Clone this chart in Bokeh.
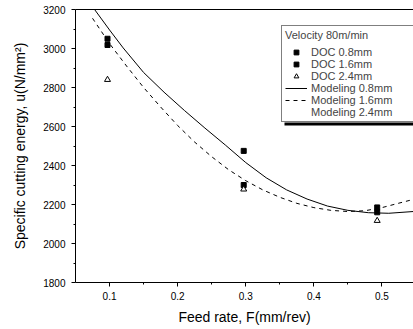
from bokeh.plotting import figure
from bokeh.models import ColumnDataSource, Legend, LegendItem, LinearAxis, FixedTicker, Range1d, BoxAnnotation
from bokeh.embed import file_html
from bokeh.resources import INLINE

# ---- data ----
feed = [0.097, 0.297, 0.493]
doc_08 = [3050, 2475, 2185]
doc_16 = [3018, 2300, 2160]
doc_24 = [2840, 2278, 2117]

model_08_feed = [0.078, 0.10, 0.12, 0.15, 0.18, 0.21, 0.24, 0.27, 0.30, 0.33, 0.36,
                 0.39, 0.42, 0.45, 0.48, 0.51, 0.546]
model_08_u = [3200, 3095, 3003, 2877, 2776, 2682, 2592, 2505, 2415, 2337, 2275,
              2228, 2192, 2170, 2158, 2155, 2164]

model_16_feed = [0.075, 0.10, 0.125, 0.15, 0.175, 0.20, 0.225, 0.25, 0.275, 0.30,
                 0.325, 0.35, 0.375, 0.40, 0.425, 0.45, 0.475, 0.50, 0.525, 0.546]
model_16_u = [3155, 3025, 2910, 2800, 2700, 2605, 2520, 2445, 2378, 2322,
              2275, 2237, 2206, 2184, 2170, 2164, 2168, 2184, 2207, 2226]

model_24_feed = []
model_24_u = []

x_ticks = [0.1, 0.2, 0.3, 0.4, 0.5]
x_minor = [0.15, 0.25, 0.35, 0.45]
y_ticks = [1800, 2000, 2200, 2400, 2600, 2800, 3000, 3200]
y_minor = [1900, 2100, 2300, 2500, 2700, 2900, 3100]

legend_title = "Velocity 80m/min"
labels = ["DOC 0.8mm", "DOC 1.6mm", "DOC 2.4mm",
          "Modeling 0.8mm", "Modeling 1.6mm", "Modeling 2.4mm"]

FONT = "Liberation Sans"

p = figure(width=413, height=329,
           x_range=Range1d(0.05, 0.5463), y_range=Range1d(1800, 3200),
           output_backend="svg", toolbar_location=None,
           min_border_left=75, min_border_right=0, min_border_top=9, min_border_bottom=47,
           x_axis_label="Feed rate, F(mm/rev)",
           y_axis_label="Specific cutting energy, u(N/mm\u00b2)")
p.grid.visible = False
p.outline_line_color = None
p.background_fill_color = "white"
p.border_fill_color = "white"

p.xaxis.ticker = FixedTicker(ticks=x_ticks, minor_ticks=x_minor)
p.yaxis.ticker = FixedTicker(ticks=y_ticks, minor_ticks=y_minor)

for ax in (p.xaxis[0], p.yaxis[0]):
    ax.axis_line_color = "black"
    ax.major_tick_line_color = "black"
    ax.minor_tick_line_color = "black"
    ax.major_tick_out = 4
    ax.major_tick_in = 0
    ax.minor_tick_out = 2
    ax.minor_tick_in = 0
    ax.major_label_text_font = FONT
    ax.major_label_text_font_size = "10px"
    ax.major_label_text_color = "black"
    ax.axis_label_text_font = FONT
    ax.axis_label_text_font_size = "14px"
    ax.axis_label_text_font_style = "normal"
    ax.axis_label_text_color = "black"
p.xaxis.major_label_standoff = 5
p.xaxis.axis_label_standoff = 6
p.yaxis.major_label_standoff = 6
p.yaxis.axis_label_standoff = 12

top_axis = LinearAxis(ticker=FixedTicker(ticks=[]), major_label_text_font_size="0px",
                      major_tick_out=0, major_tick_in=0, minor_tick_out=0, minor_tick_in=0,
                      major_label_standoff=0, axis_line_color="black")
p.add_layout(top_axis, "above")

r_m08 = p.line(model_08_feed, model_08_u, line_color="black", line_width=1)
r_m16 = p.line(model_16_feed, model_16_u, line_color="black", line_width=1, line_dash="4 4")
r_m24 = p.line(model_24_feed, model_24_u, line_color="black", line_alpha=0)

r_d08 = p.scatter(feed, doc_08, marker="square", size=5, fill_color="black", line_color="black")
r_d16 = p.scatter(feed, doc_16, marker="square", size=5, fill_color="black", line_color="black")
r_d24 = p.scatter(feed, doc_24, marker="triangle", size=6, fill_color="white", line_color="black",
                  line_width=1)

items = [LegendItem(label=l, renderers=[r]) for l, r in
         zip(labels, [r_d08, r_d16, r_d24, r_m08, r_m16, r_m24])]
legend = Legend(items=items, location=(206, 160), title=legend_title,
                title_text_font=FONT, title_text_font_size="11px", title_text_font_style="normal",
                title_standoff=5, label_text_font=FONT, label_text_font_size="11px",
                label_text_line_height=1.0,
                glyph_width=22, glyph_height=12, label_height=12, label_standoff=4,
                label_width=105, spacing=0, padding=3, margin=0,
                border_line_color="black", border_line_width=1,
                background_fill_color="white", background_fill_alpha=1.0)
p.add_layout(legend, "center")

# drop shadow under the legend box
shadow = BoxAnnotation(left=284, right=413, top=122, bottom=125,
                       left_units="canvas", right_units="canvas",
                       top_units="canvas", bottom_units="canvas",
                       fill_color="black", fill_alpha=1.0, line_color=None, level="overlay")
p.add_layout(shadow)

open("out.html", "w").write(file_html(p, INLINE))
